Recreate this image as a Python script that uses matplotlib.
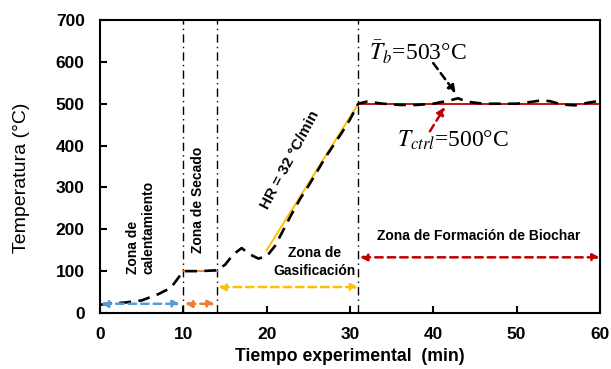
import numpy as np
import matplotlib
matplotlib.use('Agg')
import matplotlib.pyplot as plt

plt.rcParams['font.family'] = ['Liberation Sans', 'DejaVu Sans']
plt.rcParams['mathtext.fontset'] = 'stix'

# 温度曲线 (min, °C)
t_exp = [0, 1, 3, 5, 7, 8.5, 10, 12, 14, 15, 16, 17, 18, 19, 20, 21, 22, 23, 24,
         25, 26, 27, 28, 29, 30, 31, 32, 34, 36, 38, 40, 42, 43, 44, 46, 48, 50,
         52, 53, 54, 55.5, 57, 58.5, 60]
T_exp = [20, 22, 25, 30, 45, 60, 100, 100, 102, 115, 140, 155, 140, 130, 135, 160,
         198, 236, 272, 303, 336, 370, 400, 430, 462, 500, 505, 500, 497, 497, 500,
         508, 513, 505, 500, 500, 500, 505, 508, 506, 498, 496, 502, 507]

# 区域边界
zonas_x = [10, 14, 31]
secado_t = [10, 14]
secado_T = [100, 100]
hr_t = [20, 31]
hr_T = [150, 500]
ctrl_t = [31, 60]
ctrl_T = [500, 500]

# 区域箭头: (起点, 终点, 高度, 颜色)
flechas = [(0.1, 9.6, 22, '#5B9BD5'),
           (10.2, 13.8, 22, '#ED7D31'),
           (14.2, 31, 62, '#FFC000'),
           (31.2, 60, 133, '#C00000')]

fig = plt.figure(figsize=(6.11, 3.69), dpi=100)
ax = fig.add_axes([0.1637, 0.1518, 0.818, 0.794])

ax.plot(t_exp, T_exp, color='black', ls=(0, (4.5, 2.8)), lw=1.9, zorder=3)
ax.plot(secado_t, secado_T, color='#ED7D31', lw=1.3, zorder=2)
ax.plot(hr_t, hr_T, color='#FFC000', lw=1.4, zorder=2)
ax.plot(ctrl_t, ctrl_T, color='#C00000', lw=1.3, zorder=2)

for x in zonas_x:
    ax.axvline(x, color='black', ls=(0, (6, 3, 1, 3)), lw=1.0, zorder=1)

for x0, x1, y, c in flechas:
    ax.annotate('', xy=(x1, y), xytext=(x0, y),
                arrowprops=dict(arrowstyle='<|-|>', color=c, lw=1.8, ls=(0, (3, 2)),
                                mutation_scale=10, shrinkA=0, shrinkB=0))

ax.text(4.9, 205, 'Zona de\ncalentamiento', rotation=90, ha='center', va='center',
        multialignment='left', fontsize=10, fontweight='bold')
ax.text(11.8, 270, 'Zona de Secado', rotation=90, ha='center', va='center',
        fontsize=10, fontweight='bold')
ax.text(22.8, 365, 'HR = 32 °C/min', rotation=62, ha='center', va='center',
        fontsize=11, fontweight='bold')
ax.text(25.8, 122, 'Zona de\nGasificación', ha='center', va='center',
        fontsize=10, fontweight='bold', linespacing=1.3)
ax.text(45.4, 184, 'Zona de Formación de Biochar', ha='center', va='center',
        fontsize=10, fontweight='bold')

# 标注
ax.text(38.2, 623, r'$\bar{T}_b$=503°C', ha='center', va='center', fontsize=17,
        family='Liberation Serif')
ax.annotate('', xy=(42.7, 525), xytext=(40.0, 597),
            arrowprops=dict(arrowstyle='-|>', color='black', lw=1.8, ls=(0, (3, 2)),
                            mutation_scale=11, shrinkA=0, shrinkB=0))
ax.text(42.4, 413, r'$T_{ctrl}$=500°C', ha='center', va='center', fontsize=17,
        family='Liberation Serif')
ax.annotate('', xy=(41.4, 492), xytext=(39.6, 434),
            arrowprops=dict(arrowstyle='-|>', color='#C00000', lw=1.8, ls=(0, (3, 2)),
                            mutation_scale=11, shrinkA=0, shrinkB=0))

ax.set_xlim(0, 60)
ax.set_ylim(0, 700)
ax.set_xticks(np.arange(0, 61, 10))
ax.set_yticks(np.arange(0, 701, 100))
ax.tick_params(direction='in', width=1.5, length=5, labelsize=12.5)
ax.tick_params(axis='y', pad=11)
ax.tick_params(axis='x', pad=10)
for lab in ax.get_xticklabels() + ax.get_yticklabels():
    lab.set_fontweight('bold')
for s in ax.spines.values():
    s.set_linewidth(1.5)

ax.set_xlabel('Tiempo experimental  (min)', fontsize=12.7, fontweight='bold', va='center')
ax.xaxis.set_label_coords(0.5, -0.147)
ax.set_ylabel('Temperatura (°C)', fontsize=14, va='center')
ax.yaxis.set_label_coords(-0.158, 0.461)

fig.savefig('out.png', dpi=100)
